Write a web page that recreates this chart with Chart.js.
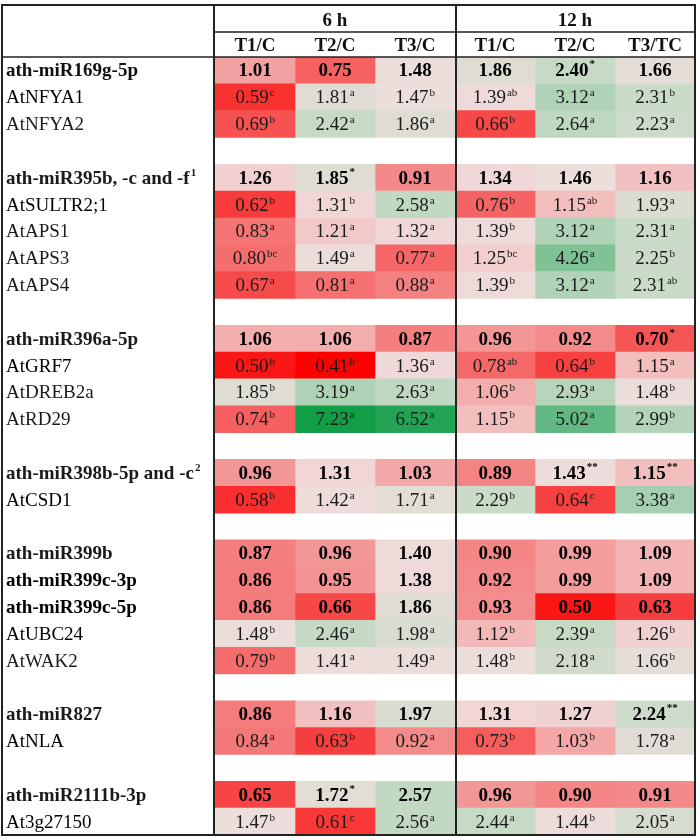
<!DOCTYPE html>
<html>
<head>
<meta charset="utf-8">
<script src="https://cdn.jsdelivr.net/npm/chart.js@4.4.1/dist/chart.umd.min.js"></script>
<style>
  html, body { margin: 0; padding: 0; background: #fff; }
</style>
</head>
<body>
<canvas id="heat" width="700" height="840"></canvas>
<script>
// rows of the table ('' = blank spacer row)
var rows = ['ath-miR169g-5p', 'AtNFYA1', 'AtNFYA2', '',
  'ath-miR395b, -c and -f', 'AtSULTR2;1', 'AtAPS1', 'AtAPS3', 'AtAPS4', '',
  'ath-miR396a-5p', 'AtGRF7', 'AtDREB2a', 'AtRD29', '',
  'ath-miR398b-5p and -c', 'AtCSD1', '',
  'ath-miR399b', 'ath-miR399c-3p', 'ath-miR399c-5p', 'AtUBC24', 'AtWAK2', '',
  'ath-miR827', 'AtNLA', '',
  'ath-miR2111b-3p', 'At3g27150'];
var labelNotes = {4: '1', 15: '2'};

var timeHeads = ['6 h', '12 h'];
var colHeads = ['T1/C', 'T2/C', 'T3/C', 'T1/C', 'T2/C', 'T3/TC'];

// fold changes, one array per column
var v6T1 = [1.01, 0.59, 0.69, null, 1.26, 0.62, 0.83, 0.80, 0.67, null, 1.06, 0.50, 1.85, 0.74, null, 0.96, 0.58, null, 0.87, 0.86, 0.86, 1.48, 0.79, null, 0.86, 0.84, null, 0.65, 1.47];
var v6T2 = [0.75, 1.81, 2.42, null, 1.85, 1.31, 1.21, 1.49, 0.81, null, 1.06, 0.41, 3.19, 7.23, null, 1.31, 1.42, null, 0.96, 0.95, 0.66, 2.46, 1.41, null, 1.16, 0.63, null, 1.72, 0.61];
var v6T3 = [1.48, 1.47, 1.86, null, 0.91, 2.58, 1.32, 0.77, 0.88, null, 0.87, 1.36, 2.63, 6.52, null, 1.03, 1.71, null, 1.40, 1.38, 1.86, 1.98, 1.49, null, 1.97, 0.92, null, 2.57, 2.56];
var v12T1 = [1.86, 1.39, 0.66, null, 1.34, 0.76, 1.39, 1.25, 1.39, null, 0.96, 0.78, 1.06, 1.15, null, 0.89, 2.29, null, 0.90, 0.92, 0.93, 1.12, 1.48, null, 1.31, 0.73, null, 0.96, 2.44];
var v12T2 = [2.40, 3.12, 2.64, null, 1.46, 1.15, 3.12, 4.26, 3.12, null, 0.92, 0.64, 2.93, 5.02, null, 1.43, 0.64, null, 0.99, 0.99, 0.50, 2.39, 2.18, null, 1.27, 1.03, null, 0.90, 1.44];
var v12T3 = [1.66, 2.31, 2.23, null, 1.16, 1.93, 2.31, 2.25, 2.31, null, 0.70, 1.15, 1.48, 2.99, null, 1.15, 3.38, null, 1.09, 1.09, 0.63, 1.26, 1.66, null, 2.24, 1.78, null, 0.91, 2.05];

// superscripts (letters = groups, * = significance)
var s6T1 = ['', 'c', 'b', '', '', 'b', 'a', 'bc', 'a', '', '', 'b', 'b', 'b', '', '', 'b', '', '', '', '', 'b', 'b', '', '', 'a', '', '', 'b'];
var s6T2 = ['', 'a', 'a', '', '*', 'b', 'a', 'a', 'a', '', '', 'b', 'a', 'a', '', '', 'a', '', '', '', '', 'a', 'a', '', '', 'b', '', '*', 'c'];
var s6T3 = ['', 'b', 'a', '', '', 'a', 'a', 'a', 'a', '', '', 'a', 'a', 'a', '', '', 'a', '', '', '', '', 'a', 'a', '', '', 'a', '', '', 'a'];
var s12T1 = ['', 'ab', 'b', '', '', 'b', 'b', 'bc', 'b', '', '', 'ab', 'b', 'b', '', '', 'b', '', '', '', '', 'b', 'b', '', '', 'b', '', '', 'a'];
var s12T2 = ['*', 'a', 'a', '', '', 'ab', 'a', 'a', 'a', '', '', 'b', 'a', 'a', '', '**', 'c', '', '', '', '', 'a', 'a', '', '', 'b', '', '', 'b'];
var s12T3 = ['', 'b', 'a', '', '', 'a', 'a', 'b', 'ab', '', '*', 'a', 'b', 'b', '', '**', 'a', '', '', '', '', 'b', 'b', '', '**', 'a', '', '', 'a'];

var cols = [v6T1, v6T2, v6T3, v12T1, v12T2, v12T3];
var sups = [s6T1, s6T2, s6T3, s12T1, s12T2, s12T3];

// colour ramp red -> pale -> green
var stops = [
  [0.41, [255, 0, 0]], [0.50, [251, 22, 22]], [0.60, [248, 52, 52]], [0.70, [246, 85, 85]],
  [0.80, [245, 110, 110]], [0.90, [244, 134, 134]], [1.00, [243, 160, 160]], [1.10, [242, 182, 182]],
  [1.20, [241, 199, 199]], [1.30, [240, 214, 214]], [1.45, [236, 222, 219]], [1.85, [223, 220, 212]],
  [2.30, [202, 219, 200]], [3.10, [177, 211, 184]], [4.26, [126, 194, 150]], [5.02, [98, 184, 130]],
  [6.52, [36, 163, 84]], [7.23, [18, 158, 68]]
];
function cellColor(v) {
  if (v == null) return 'rgba(0,0,0,0)';
  if (v <= stops[0][0]) return 'rgb(' + stops[0][1].join(',') + ')';
  for (var i = 1; i < stops.length; i++) {
    if (v <= stops[i][0]) {
      var a = stops[i - 1], b = stops[i];
      var t = (v - a[0]) / (b[0] - a[0]);
      var c = a[1].map(function (x, k) { return Math.round(x + (b[1][k] - x) * t); });
      return 'rgb(' + c.join(',') + ')';
    }
  }
  return 'rgb(' + stops[stops.length - 1][1].join(',') + ')';
}

var FONT = '"Liberation Serif", "Times New Roman", serif';

var tableText = {
  id: 'tableText',
  afterDraw: function (chart) {
    var ctx = chart.ctx, x = chart.scales.x, y = chart.scales.y, area = chart.chartArea;
    ctx.save();
    ctx.fillStyle = '#111';
    ctx.textBaseline = 'alphabetic';

    // headers
    ctx.font = 'bold 19px ' + FONT;
    ctx.textAlign = 'center';
    ctx.fillText(timeHeads[0], x.getPixelForValue(1.5), area.top - 31);
    ctx.fillText(timeHeads[1], x.getPixelForValue(4.5), area.top - 31);
    colHeads.forEach(function (h, c) {
      ctx.fillText(h, x.getPixelForValue(c + 0.5), area.top - 6);
    });

    // row labels and values
    rows.forEach(function (label, i) {
      if (!label) return;
      var bold = label.indexOf('ath-') === 0;
      var base = y.getPixelForValue(i) + 6;
      ctx.textAlign = 'left';
      ctx.font = (bold ? 'bold ' : '') + '19px ' + FONT;
      ctx.fillText(label, 6, base);
      if (labelNotes[i]) {
        var lw = ctx.measureText(label).width;
        ctx.font = (bold ? 'bold ' : '') + '11px ' + FONT;
        ctx.fillText(labelNotes[i], 6 + lw + 1, base - 8);
      }
      cols.forEach(function (vals, c) {
        var v = vals[i];
        if (v == null) return;
        var txt = v.toFixed(2), sup = sups[c][i];
        ctx.font = (bold ? 'bold ' : '') + '19px ' + FONT;
        var w = ctx.measureText(txt).width;
        var supFont = (bold ? 'bold ' : '') + '11px ' + FONT;
        ctx.font = supFont;
        var sw = sup ? ctx.measureText(sup).width + 1 : 0;
        var start = x.getPixelForValue(c + 0.5) - (w + sw) / 2;
        ctx.font = (bold ? 'bold ' : '') + '19px ' + FONT;
        ctx.fillStyle = bold ? '#000' : '#1a1a1a';
        ctx.fillText(txt, start, base);
        if (sup) {
          ctx.font = supFont;
          ctx.fillText(sup, start + w + 1, base - (sup.charAt(0) === '*' ? 9 : 7));
        }
      });
    });

    // table rules
    ctx.strokeStyle = '#222';
    ctx.lineWidth = 2;
    var top = area.top - 52, l = 2, r = area.right;
    ctx.strokeRect(l, top, r - l, area.bottom - top);
    ctx.beginPath();
    ctx.moveTo(area.left - 1, top); ctx.lineTo(area.left - 1, area.bottom);
    ctx.moveTo(x.getPixelForValue(3) + 1, top); ctx.lineTo(x.getPixelForValue(3) + 1, area.bottom);
    ctx.stroke();
    ctx.lineWidth = 1.5;
    ctx.beginPath();
    ctx.moveTo(area.left, area.top - 25); ctx.lineTo(r, area.top - 25);
    ctx.moveTo(l, area.top); ctx.lineTo(r, area.top);
    ctx.stroke();
    ctx.restore();
  }
};

window.addEventListener('load', function () {
  var ctx = document.getElementById('heat').getContext('2d');
  var chart = new Chart(ctx, {
    type: 'bar',
    data: {
      labels: rows,
      datasets: cols.map(function (vals, c) {
        return {
          data: vals.map(function (v) { return v == null ? null : [c, c + 1]; }),
          backgroundColor: vals.map(cellColor),
          borderWidth: 0,
          grouped: false,
          barPercentage: 1,
          categoryPercentage: 1
        };
      })
    },
    options: {
      indexAxis: 'y',
      responsive: false,
      animation: false,
      devicePixelRatio: 1,
      layout: { padding: { left: 215, top: 57, right: 5, bottom: 5 } },
      scales: {
        x: { type: 'linear', min: 0, max: 6, display: false },
        y: { display: false }
      },
      plugins: { legend: { display: false }, tooltip: { enabled: false } }
    },
    plugins: [tableText]
  });
});
</script>
</body>
</html>
